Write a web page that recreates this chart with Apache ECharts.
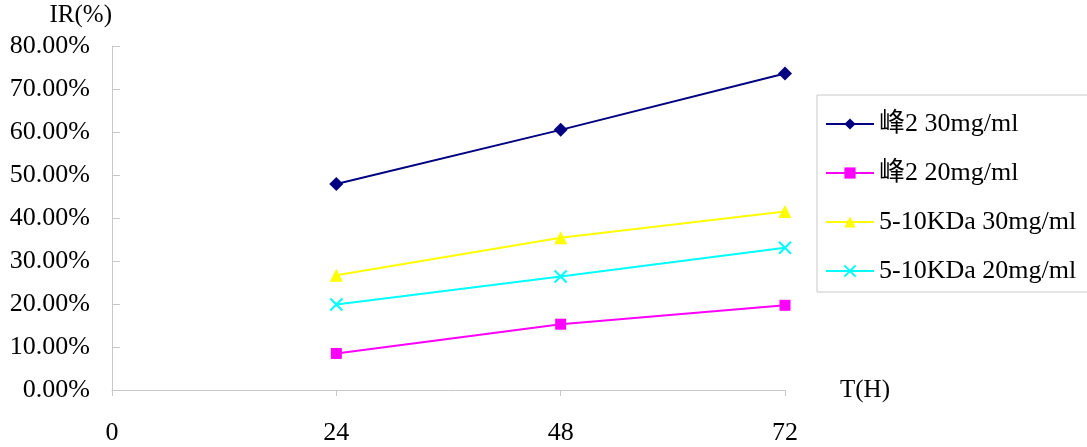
<!DOCTYPE html>
<html>
<head>
<meta charset="utf-8">
<script src="https://cdn.jsdelivr.net/npm/echarts@6/dist/echarts.min.js"></script>
<style>
  html, body { margin: 0; padding: 0; background: #fff; }
  #chart { width: 1087px; height: 447px; }
</style>
</head>
<body>
<div id="chart"></div>
<script>
// 数据
const hours = [24, 48, 72];
const seriesNames = ['峰2 30mg/ml', '峰2 20mg/ml', '5-10KDa 30mg/ml', '5-10KDa 20mg/ml'];
const peak2_30 = [47.9, 60.5, 73.6];
const peak2_20 = [8.5, 15.3, 19.7];
const kda_30 = [26.7, 35.4, 41.5];
const kda_20 = [19.9, 26.4, 33.1];
const xTicks = [0, 24, 48, 72];
const yTicks = [0, 10, 20, 30, 40, 50, 60, 70, 80];

const FONT = '"Liberation Serif", "Noto Sans CJK SC", serif';
const chart = echarts.init(document.getElementById('chart'));

function pairs(vals) {
  return hours.map((h, i) => [h, vals[i]]);
}

const crossPath = 'path://M0,0L10,10M10,0L0,10';

const option = {
  animation: false,
  backgroundColor: '#fff',
  grid: { left: 112, top: 46, right: 302, bottom: 57 },
  legend: {
    orient: 'vertical',
    left: 817,
    top: 95,
    width: 300,
    padding: [16, 80, 8, 8],
    itemGap: 23,
    itemWidth: 48,
    itemHeight: 14,
    borderColor: '#c8c8c8',
    borderWidth: 1,
    textStyle: { fontFamily: FONT, fontSize: 26, color: '#000' },
    data: seriesNames
  },
  xAxis: {
    type: 'value',
    min: 0,
    max: 72,
    interval: 24,
    name: 'T(H)',
    nameLocation: 'end',
    nameGap: 55,
    nameTextStyle: { fontFamily: FONT, fontSize: 25, color: '#000', verticalAlign: 'middle', padding: [0, 0, 6, 0] },
    axisLine: { lineStyle: { color: '#c8c8c8', width: 1 } },
    axisTick: { show: true, inside: false, length: 6, lineStyle: { color: '#c8c8c8' } },
    axisLabel: {
      margin: 30,
      fontFamily: FONT, fontSize: 26, color: '#000',
      formatter: v => xTicks.includes(v) ? String(v) : ''
    },
    splitLine: { show: false }
  },
  yAxis: {
    type: 'value',
    min: 0,
    max: 80,
    interval: 10,
    name: 'IR(%)',
    nameLocation: 'end',
    nameGap: 18,
    nameTextStyle: { fontFamily: FONT, fontSize: 25, color: '#000', align: 'right', verticalAlign: 'bottom' },
    axisLine: { show: true, lineStyle: { color: '#c8c8c8', width: 1 } },
    axisTick: { show: true, inside: true, length: 8, lineStyle: { color: '#c8c8c8' } },
    axisLabel: {
      margin: 22,
      fontFamily: FONT, fontSize: 26, color: '#000',
      formatter: v => yTicks.includes(v) ? v.toFixed(2) + '%' : ''
    },
    splitLine: { show: false }
  },
  series: [
    {
      name: seriesNames[0], type: 'line', data: pairs(peak2_30),
      symbol: 'diamond', symbolSize: 14,
      lineStyle: { color: '#000080', width: 2 },
      itemStyle: { color: '#000080' }
    },
    {
      name: seriesNames[1], type: 'line', data: pairs(peak2_20),
      symbol: 'rect', symbolSize: 11,
      lineStyle: { color: '#ff00ff', width: 2 },
      itemStyle: { color: '#ff00ff' }
    },
    {
      name: seriesNames[2], type: 'line', data: pairs(kda_30),
      symbol: 'triangle', symbolSize: 13,
      lineStyle: { color: '#ffff00', width: 2 },
      itemStyle: { color: '#ffff00' }
    },
    {
      name: seriesNames[3], type: 'line', data: pairs(kda_20),
      symbol: crossPath, symbolSize: 12,
      lineStyle: { color: '#00ffff', width: 2 },
      itemStyle: { color: 'none', borderColor: '#00ffff', borderWidth: 2 }
    }
  ]
};

chart.setOption(option);
</script>
</body>
</html>
